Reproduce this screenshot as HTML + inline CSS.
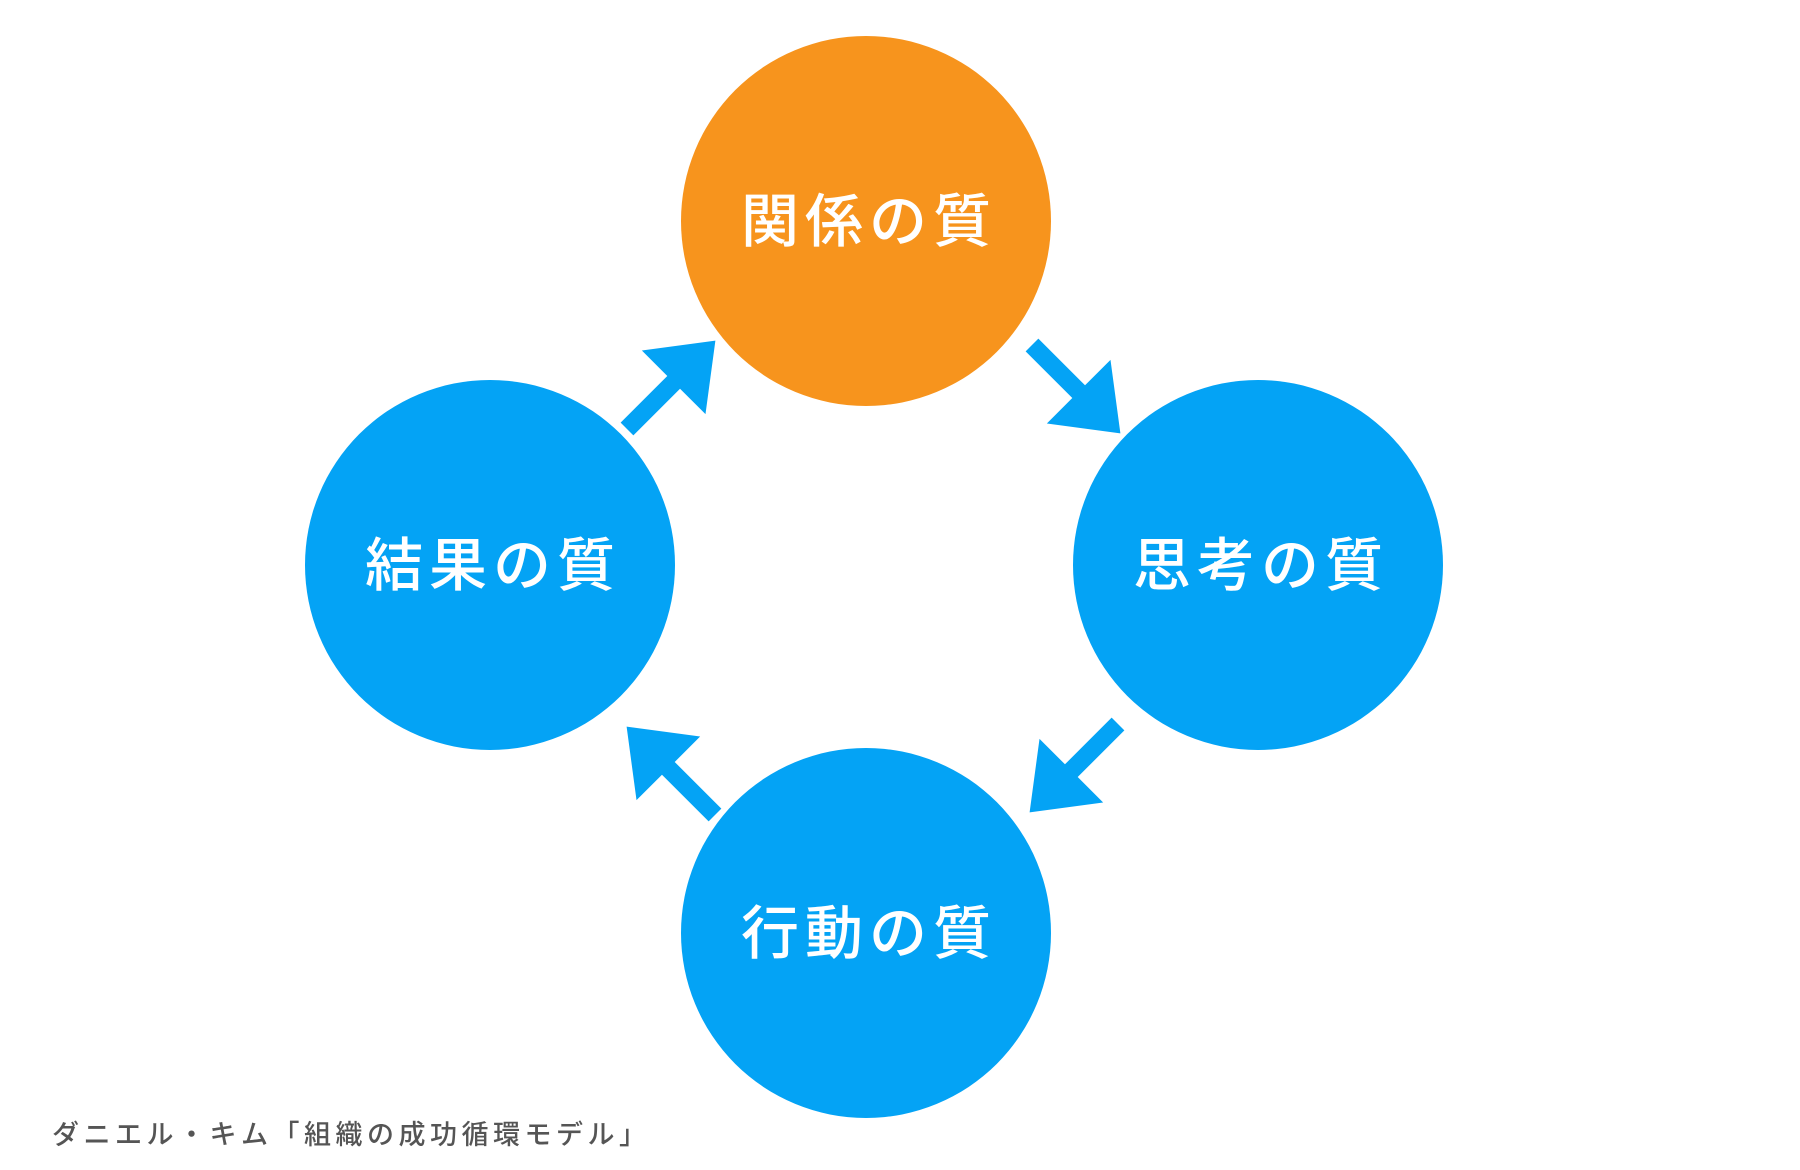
<!DOCTYPE html>
<html><head><meta charset="utf-8"><style>
html,body{margin:0;padding:0;background:#fff;width:1800px;height:1170px;overflow:hidden}
svg{display:block}
.t{font-family:"Liberation Sans","Noto Sans CJK JP",sans-serif;font-size:58px;font-weight:500;fill:#fff;letter-spacing:6px;text-anchor:middle;dominant-baseline:central}
.f{font-family:"Liberation Sans","Noto Sans CJK JP",sans-serif;font-size:27px;font-weight:500;fill:#555;letter-spacing:4.5px}
</style></head><body>
<svg width="1800" height="1170" viewBox="0 0 1800 1170">
<defs><polygon id="a" points="0,-9 66,-9 66,-45 125,0 66,45 66,9 0,9" fill="#04A3F5"/></defs>
<circle cx="866" cy="221" r="185" fill="#F7941D"/>
<circle cx="490" cy="565" r="185" fill="#04A3F5"/>
<circle cx="1258" cy="565" r="185" fill="#04A3F5"/>
<circle cx="866" cy="933" r="185" fill="#04A3F5"/>
<text class="t" x="869" y="222">関係の質</text>
<text class="t" x="493" y="566">結果の質</text>
<text class="t" x="1261" y="566">思考の質</text>
<text class="t" x="869" y="934">行動の質</text>
<use href="#a" transform="translate(627,429) rotate(-45)"/>
<use href="#a" transform="translate(1032,345) rotate(45)"/>
<use href="#a" transform="translate(1118,724) rotate(135)"/>
<use href="#a" transform="translate(715,815) rotate(-135)"/>
<text class="f" x="52" y="1144">ダニエル・キム「組織の成功循環モデル」</text>
</svg>
</body></html>
